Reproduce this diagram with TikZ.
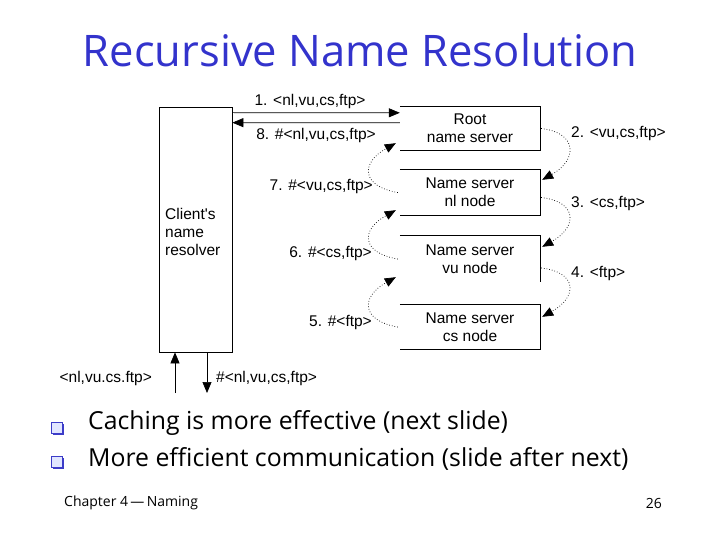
\documentclass[tikz,border=0pt]{standalone}
\usepackage{fontspec}
\setmainfont{Liberation Sans}
\newfontfamily\comic{Open Sans}
\usetikzlibrary{arrows.meta,calc,shadows}
\definecolor{titleblue}{RGB}{51,51,204}
\definecolor{bulletblue}{RGB}{60,60,200}
\definecolor{bulletfill}{RGB}{225,230,255}
\begin{document}
\begin{tikzpicture}[x=1pt,y=-1pt,
  lab/.style={font=\fontsize{15.5}{18}\selectfont, inner sep=0pt},
  srv/.style={minimum width=140pt, inner sep=0pt, align=center, font=\fontsize{15.5}{18}\selectfont},
  arr/.style={-{Triangle[length=11pt,width=9pt]}, line width=0.7pt},
  dotarr/.style={dotted, line width=0.7pt, -{Triangle[length=11pt,width=9pt]}},
  edge/.style={line width=0.7pt},
  bul/.style={minimum size=10.5pt, inner sep=0pt, draw=bulletblue, line width=0.7pt, fill=bulletfill,
    drop shadow={shadow xshift=1.5pt, shadow yshift=-1.5pt, fill=bulletblue, opacity=1}},
  btext/.style={anchor=west, inner sep=0pt, font=\comic\fontsize{24.8}{29}\selectfont}]
\useasboundingbox (0,0) rectangle (720,540);
\fill[white] (0,0) rectangle (720,540);

\node[font=\comic\fontsize{43.5}{52}\selectfont, text=titleblue] (title) at (360,50) {Recursive Name Resolution};

% client
\node[draw, edge, minimum width=73pt, minimum height=245pt, inner sep=0pt] (client) at (195.5,229.5) {};
\node[lab, anchor=west, align=left] (clienttxt) at (165,232) {Client\textquotesingle s\\name\\resolver};

% servers
\node[srv, minimum height=43pt] (root) at (470,128.5) {Root\\name server};
\node[srv, minimum height=45pt] (nl) at (470,192.5) {Name server\\nl node};
\node[srv, minimum height=46pt] (vu) at (470,259) {Name server\\vu node};
\node[srv, minimum height=44pt] (cs) at (470,327) {Name server\\cs node};
\draw[edge] (root.north west) -- (root.north east) -- (root.south east) -- (root.south west);
\draw[edge] (nl.north west) -- (nl.north east) -- (nl.south east) -- (nl.south west);
\draw[edge] (vu.north west) -- (vu.north east) -- (vu.south east);
\draw[edge] (cs.north west) -- (cs.north east) -- (cs.south east) -- (cs.south west);

% arrows 1 and 8
\draw[arr] ([yshift=-6pt]client.north east) -- ([yshift=-6pt]root.north west);
\draw[arr] ([yshift=-16pt]root.north west) -- ([yshift=-16pt]client.north east);
\node[lab] (l1) at (310,101) {1. <nl,vu,cs,ftp>};
\node[lab] (l8) at (316,135) {8. \#<nl,vu,cs,ftp>};

% right curves
\draw[dotarr] ([xshift=1pt]root.east) .. controls +(36,4) and +(36,-20) .. ([shift={(2pt,-10pt)}]nl.north east);
\draw[dotarr] ([shift={(1pt,-5pt)}]nl.east) .. controls +(36,4) and +(36,-20) .. ([shift={(2pt,-11pt)}]vu.north east);
\draw[dotarr] ([shift={(1pt,-9pt)}]vu.east) .. controls +(36,4) and +(36,-20) .. ([shift={(2pt,-12pt)}]cs.north east);
\node[lab, anchor=west] (l2) at (571,134) {2. <vu,cs,ftp>};
\node[lab, anchor=west] (l3) at (571,204) {3. <cs,ftp>};
\node[lab, anchor=west] (l4) at (571,273) {4. <ftp>};

% left curves
\draw[dotarr] ([xshift=-2pt]nl.west) .. controls +(-36,-6) and +(-36,20) .. ([shift={(-4pt,7pt)}]root.south west);
\draw[dotarr] ([xshift=-2pt]vu.west) .. controls +(-36,-6) and +(-36,20) .. ([shift={(-4pt,5pt)}]nl.south west);
\draw[dotarr] ([xshift=-2pt]cs.west) .. controls +(-36,-6) and +(-36,20) .. ([shift={(-4pt,5pt)}]vu.south west);
\node[lab, anchor=east] (l7) at (373,187) {7. \#<vu,cs,ftp>};
\node[lab, anchor=east] (l6) at (372,254) {6. \#<cs,ftp>};
\node[lab, anchor=east] (l5) at (372,322) {5. \#<ftp>};

% bottom arrows
\coordinate (upstart) at (175,393);
\coordinate (downend) at (207,393);
\draw[arr] (upstart) -- (upstart |- client.south);
\draw[arr] (downend |- client.south) -- (downend);
\node[lab, anchor=east] (lin) at (152,378) {<nl,vu.cs.ftp>};
\node[lab, anchor=west] (lout) at (216,378) {\#<nl,vu,cs,ftp>};

% bullets
\node[bul] (b1) at (57,428) {};
\node[bul] (b2) at (57,462) {};
\node[btext] (t1) at (88,423) {Caching is more effective (next slide)};
\node[btext] (t2) at (88,459) {More efficient communication (slide after next)};

% footer
\node[anchor=west, inner sep=0pt, font=\comic\fontsize{14}{16}\selectfont] (foot) at (64,503) {Chapter 4\,—\,Naming};
\node[anchor=east, inner sep=0pt, font=\comic\fontsize{14}{16}\selectfont] (pg) at (662,503) {26};
\end{tikzpicture}
\end{document}
